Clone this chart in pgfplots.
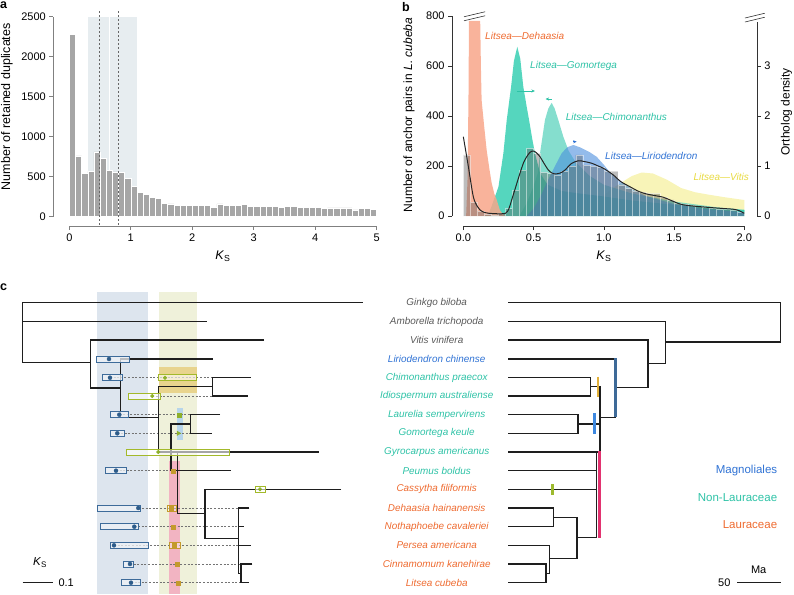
\documentclass[border=0pt]{standalone}
\usepackage{pgfplots}
\pgfplotsset{compat=1.18}
\usepackage{fontspec}
\setmainfont{Liberation Sans}
\usetikzlibrary{arrows.meta}

\definecolor{axa}{HTML}{808080}
\definecolor{axb}{HTML}{333333}
\definecolor{bara}{HTML}{A6A6A6}
\definecolor{banda}{HTML}{E7EDF0}
\definecolor{cGomo}{HTML}{2ACCAE}
\definecolor{cChim}{HTML}{66D6C2}
\definecolor{cLiri}{HTML}{4B8EDE}
\definecolor{cViti}{HTML}{F6F1A6}
\definecolor{cDeha}{HTML}{F8A68A}
\definecolor{greyt}{HTML}{5A5A5A}
\definecolor{bluet}{HTML}{2F72D4}
\definecolor{tealt}{HTML}{2DC2A6}
\definecolor{oranget}{HTML}{EE6A2F}
\definecolor{yellowt}{HTML}{E8DA40}
\definecolor{treec}{HTML}{1E1E1E}
\definecolor{bandblue}{HTML}{DDE5EE}
\definecolor{bandyel}{HTML}{EFF1DA}
\definecolor{bandpink}{HTML}{F2B4C2}
\definecolor{bandgold}{HTML}{E8D48E}
\definecolor{bandlblue}{HTML}{B7D5EA}
\definecolor{boxblue}{HTML}{3D6B9A}
\definecolor{boxbluefill}{HTML}{EEF2F7}
\definecolor{dotblue}{HTML}{2D5C8A}
\definecolor{boxgreen}{HTML}{A3B92A}
\definecolor{dotgreen}{HTML}{8DB02A}
\definecolor{gold}{HTML}{C49A2C}
\definecolor{magbar}{HTML}{3E6A98}
\definecolor{goldbar}{HTML}{E2B13A}
\definecolor{bluebar}{HTML}{3D88E0}
\definecolor{pinkbar}{HTML}{E23370}
\definecolor{greenbar}{HTML}{9DBA2E}

\pgfplotsset{
  tree/.style={no marks, line width=1.4pt, color=treec, line join=miter},
  dsh/.style={no marks, line width=0.8pt, color=black!55, dash pattern=on 2pt off 1.6pt},
  bbox/.style={no marks, line width=0.9pt, draw=boxblue, fill=boxbluefill, fill opacity=0.75},
  gbox/.style={no marks, line width=0.9pt, draw=boxgreen, fill=white, fill opacity=0.6},
  obox/.style={no marks, line width=0.9pt, draw=gold, fill=white, fill opacity=0.4},
}
\tikzset{sp/.style={font=\fontsize{9.9}{11}\selectfont\itshape, anchor=center}}

\begin{document}
\begin{tikzpicture}
\useasboundingbox (0,0) rectangle (794pt,-594pt);

% ---------------- panel a ----------------
\begin{axis}[
 at={(53.35pt,-226pt)}, anchor=south west, scale only axis,
 width=335.6pt, height=217.3pt,
 xmin=-0.26, xmax=5.2, ymin=-116, ymax=2600,
 axis x line*=bottom, axis y line*=left, axis line style={draw=none},
 xtick={0,1,2,3,4,5}, ytick={0,500,1000,1500,2000,2500},
 tick align=outside, major tick length=4pt,
 tick style={line width=0.6pt, color=axa},
 tick label style={font=\fontsize{11}{13}\selectfont, text=black},
 /pgf/number format/assume math mode=true,
 /pgf/number format/1000 sep={},
 clip=false,
]
\addplot[fill=banda, draw=none] coordinates {(0.3,0) (0.645,0) (0.645,2500) (0.3,2500)} -- cycle;
\addplot[fill=banda, draw=none] coordinates {(0.655,0) (1.1,0) (1.1,2500) (0.655,2500)} -- cycle;
\addplot[ybar interval, fill=bara, draw=white, line width=0.5pt] coordinates {
(0.0,2283) (0.1,762) (0.2,546) (0.3,567) (0.4,812) (0.5,733) (0.6,579) (0.7,562) (0.8,550) (0.9,483)
(1.0,379) (1.1,300) (1.2,279) (1.3,242) (1.4,233) (1.5,171) (1.6,162) (1.7,146) (1.8,146) (1.9,146)
(2.0,138) (2.1,142) (2.2,142) (2.3,121) (2.4,162) (2.5,142) (2.6,146) (2.7,146) (2.8,154) (2.9,125)
(3.0,125) (3.1,125) (3.2,125) (3.3,129) (3.4,117) (3.5,125) (3.6,125) (3.7,121) (3.8,117) (3.9,117)
(4.0,117) (4.1,100) (4.2,112) (4.3,112) (4.4,112) (4.5,112) (4.6,87) (4.7,100) (4.8,108) (4.9,92) (5.0,92)};
\addplot[no marks, color=black!60, line width=0.6pt, dash pattern=on 2pt off 2pt] coordinates {(0.49,-100) (0.49,2590)};
\addplot[no marks, color=black!60, line width=0.6pt, dash pattern=on 2pt off 2pt] coordinates {(0.8,-100) (0.8,2590)};
\draw[axa, line width=0.6pt] (axis cs:0,-116) -- (axis cs:5,-116);
\draw[axa, line width=0.6pt] (axis cs:-0.26,0) -- (axis cs:-0.26,2500);
\end{axis}

% ---------------- panel b ----------------
\begin{axis}[
 at={(452.1pt,-226pt)}, anchor=south west, scale only axis,
 width=304.8pt, height=218pt,
 xmin=-0.08, xmax=2.09, ymin=-40, ymax=832,
 axis x line*=bottom, axis y line*=left, axis line style={draw=none},
 xtick={0,0.5,1,1.5,2}, ytick={0,200,400,600,800},
 xticklabel style={/pgf/number format/.cd, fixed, fixed zerofill, precision=1},
 tick align=outside, major tick length=4pt,
 tick style={line width=0.6pt, color=axb},
 tick label style={font=\fontsize{11}{13}\selectfont, text=black},
 /pgf/number format/assume math mode=true,
 clip=false,
]
% Vitis
\addplot[fill=cViti, draw=none, fill opacity=0.8] coordinates {
(0.5,0) (0.7,15) (0.9,50) (1.0,85) (1.1,125) (1.2,160) (1.27,174) (1.35,170) (1.45,145) (1.55,112)
(1.65,95) (1.75,85) (1.85,76) (2.0,64) (2.0,0)} -- cycle;
% Chimonanthus
\addplot[fill=cChim, draw=none, fill opacity=0.8] coordinates {
(0.4,0) (0.45,50) (0.5,120) (0.53,171) (0.546,251) (0.581,384) (0.605,430) (0.629,453) (0.65,430)
(0.676,384) (0.712,317) (0.75,260) (0.8,215) (0.9,160) (1.0,125) (1.2,90) (1.5,58) (1.8,35) (2.0,25) (2.0,0)} -- cycle;
% Gomortega
\addplot[fill=cGomo, draw=none, fill opacity=0.8] coordinates {
(0.15,0) (0.18,10) (0.2,37) (0.25,117) (0.285,251) (0.309,384) (0.34,517) (0.36,620) (0.384,677)
(0.405,630) (0.427,517) (0.45,440) (0.468,384) (0.49,310) (0.51,251) (0.546,171) (0.6,125) (0.7,100)
(0.8,92) (1.0,78) (1.2,62) (1.5,45) (1.8,30) (2.0,24) (2.0,0)} -- cycle;
% Liriodendron
\addplot[fill=cLiri, draw=none, fill opacity=0.6] coordinates {
(0.45,0) (0.5,30) (0.55,80) (0.6,140) (0.653,200) (0.70,251) (0.74,275) (0.783,284) (0.83,275)
(0.9,255) (0.949,237) (1.0,205) (1.05,170) (1.115,140) (1.2,108) (1.3,80) (1.5,48) (1.7,30) (2.0,15) (2.0,0)} -- cycle;
% Dehaasia
\addplot[fill=cDeha, draw=none, fill opacity=0.85] coordinates {
(0.02,0) (0.03,150) (0.037,500) (0.04,780) (0.12,780) (0.125,600) (0.13,464) (0.15,350) (0.166,264)
(0.185,190) (0.202,131) (0.22,90) (0.238,64) (0.26,24) (0.28,8) (0.3,0)} -- cycle;
% histogram
\addplot[ybar interval, fill=black!65, fill opacity=0.4, draw=white, draw opacity=0.5, line width=0.4pt] coordinates {
(0.00,245) (0.05,55) (0.10,20) (0.15,8) (0.20,5) (0.25,12) (0.30,30) (0.35,104) (0.40,184) (0.45,271)
(0.50,251) (0.55,175) (0.60,170) (0.65,165) (0.70,180) (0.75,200) (0.80,245) (0.85,205) (0.90,200) (0.95,195)
(1.00,180) (1.05,180) (1.10,125) (1.15,110) (1.20,100) (1.25,95) (1.30,90) (1.35,90) (1.40,75) (1.45,65)
(1.50,52) (1.55,48) (1.60,44) (1.65,40) (1.70,36) (1.75,32) (1.80,29) (1.85,26) (1.90,24) (1.95,14) (2.00,14)};
% kde line
\addplot[no marks, smooth, color=black!85, line width=1pt] coordinates {
(0,317) (0.036,197) (0.071,77) (0.1,38) (0.119,24) (0.15,14) (0.18,11) (0.24,9) (0.3,11) (0.325,30)
(0.344,64) (0.375,120) (0.403,171) (0.43,215) (0.451,237) (0.475,255) (0.498,260) (0.52,253) (0.546,237)
(0.575,210) (0.605,184) (0.63,172) (0.653,168) (0.69,172) (0.724,184) (0.77,210) (0.819,221) (0.86,218)
(0.914,211) (0.96,200) (1.0,190) (1.068,164) (1.12,138) (1.186,117) (1.25,98) (1.305,88) (1.36,82)
(1.424,75) (1.48,62) (1.542,48) (1.6,42) (1.733,35) (1.85,30) (1.922,27) (1.96,22) (2.0,11)};
% arrows
\addplot[no marks, color=tealt, line width=0.8pt, -{Stealth[length=3.5pt,width=3pt]}] coordinates {(0.38,500) (0.51,500)};
\addplot[no marks, color=tealt, line width=0.8pt, -{Stealth[length=3.5pt,width=3.2pt]}] coordinates {(0.629,468) (0.586,468)};
\addplot[no marks, color=bluet, line width=0.8pt, -{Stealth[length=3.5pt,width=3pt]}] coordinates {(0.783,297) (0.807,297)};
% axis lines and breaks
\draw[axb, line width=0.6pt] (axis cs:0,-40) -- (axis cs:2,-40);
\draw[axb, line width=0.6pt] (axis cs:-0.08,0) -- (axis cs:-0.08,800);
\draw[axb, line width=0.6pt] (axis cs:2.09,0) -- (axis cs:2.09,776);
\draw[axb, line width=0.6pt] (axis cs:0.005,781) -- (axis cs:0.155,801);
\draw[axb, line width=0.6pt] (axis cs:0.005,797) -- (axis cs:0.155,817);
\draw[axb, line width=0.6pt] (axis cs:2.005,776) -- (axis cs:2.146,795);
\draw[axb, line width=0.6pt] (axis cs:2.005,792) -- (axis cs:2.146,811);
\end{axis}

\begin{axis}[
 at={(452.1pt,-226pt)}, anchor=south west, scale only axis,
 width=304.8pt, height=218pt,
 xmin=-0.08, xmax=2.09, ymin=-0.2, ymax=4.16,
 axis y line*=right, axis x line=none, axis line style={draw=none},
 ytick={0,1,2,3},
 tick align=outside, major tick length=4pt,
 tick style={line width=0.6pt, color=axb},
 tick label style={font=\fontsize{11}{13}\selectfont, text=black},
 /pgf/number format/assume math mode=true,
]
\end{axis}

% ---------------- canvas (panel c + all text) ----------------
\begin{axis}[
 at={(0pt,-594pt)}, anchor=south west, scale only axis,
 width=794pt, height=594pt,
 xmin=0, xmax=794, ymin=0, ymax=594, y dir=reverse,
 hide axis, clip=false,
]
% bands
\addplot[fill=bandblue, draw=none] coordinates {(96.7,291.7) (147.7,291.7) (147.7,594) (96.7,594)} -- cycle;
\addplot[fill=bandyel, draw=none] coordinates {(159,291.7) (196.7,291.7) (196.7,594) (159,594)} -- cycle;
\addplot[fill=bandpink, draw=none] coordinates {(169,461) (180,461) (180,594) (169,594)} -- cycle;
\addplot[fill=bandgold, draw=none] coordinates {(159,367.3) (196.7,367.3) (196.7,393.3) (159,393.3)} -- cycle;
\addplot[fill=bandlblue, draw=none] coordinates {(176.7,408.3) (182.7,408.3) (182.7,440) (176.7,440)} -- cycle;

% dashed links
\addplot[dsh] coordinates {(110,377.7) (212.7,377.7)};
\addplot[dsh] coordinates {(152.3,396) (212.7,396)};
\addplot[dsh] coordinates {(119.3,414.7) (190.7,414.7)};
\addplot[dsh] coordinates {(117.3,433.3) (190.7,433.3)};
\addplot[dsh] coordinates {(116,470.7) (171,470.7)};
\addplot[dsh] coordinates {(138.3,508) (238.3,508)};
\addplot[dsh] coordinates {(134.3,526.7) (238.3,526.7)};
\addplot[dsh] coordinates {(114,545.3) (238.3,545.3)};
\addplot[dsh] coordinates {(130,564) (241,564)};
\addplot[dsh] coordinates {(131,582.7) (241,582.7)};

% left tree
\addplot[tree] coordinates {(362.7,302.7) (22.7,302.7) (22.7,362.7) (90.7,362.7)};
\addplot[tree] coordinates {(22.7,321.7) (206.7,321.7)};
\addplot[tree] coordinates {(264,340) (90.7,340) (90.7,388) (120.7,388)};
\addplot[tree] coordinates {(212.7,359) (120.7,359) (120.7,417.3) (158.3,417.3)};
\addplot[tree] coordinates {(212.7,386.7) (158.3,386.7) (158.3,452) (319,452)};
\addplot[tree] coordinates {(250.7,377.7) (212.7,377.7) (212.7,396) (247.7,396)};
\addplot[tree] coordinates {(220,414.7) (190.7,414.7) (190.7,433.3) (211.7,433.3)};
\addplot[tree] coordinates {(190.7,424) (171,424) (171,470.7) (230.7,470.7)};
\addplot[tree] coordinates {(177.7,452) (177.7,513.3) (205,513.3)};
\addplot[tree] coordinates {(341,489.3) (205,489.3) (205,538.3) (238.3,538.3)};
\addplot[tree] coordinates {(249.3,508) (238.3,508) (238.3,573.3) (241,573.3)};
\addplot[tree] coordinates {(238.3,526.7) (244.3,526.7)};
\addplot[tree] coordinates {(238.3,545.3) (250.7,545.3)};
\addplot[tree] coordinates {(252.3,564) (241,564) (241,582.7) (249.3,582.7)};

% boxes
\addplot[bbox] coordinates {(96.7,356) (129.3,356) (129.3,362) (96.7,362)} -- cycle;
\addplot[bbox] coordinates {(102.7,374.7) (122.7,374.7) (122.7,380.7) (102.7,380.7)} -- cycle;
\addplot[bbox] coordinates {(110.7,411.7) (128.3,411.7) (128.3,417.7) (110.7,417.7)} -- cycle;
\addplot[bbox] coordinates {(110.7,430.3) (124.3,430.3) (124.3,436.3) (110.7,436.3)} -- cycle;
\addplot[bbox] coordinates {(105,467.7) (126.7,467.7) (126.7,473.7) (105,473.7)} -- cycle;
\addplot[bbox] coordinates {(97.3,505) (140,505) (140,511) (97.3,511)} -- cycle;
\addplot[bbox] coordinates {(100.7,523.7) (138.3,523.7) (138.3,529.7) (100.7,529.7)} -- cycle;
\addplot[bbox] coordinates {(110.7,542.3) (148.3,542.3) (148.3,548.3) (110.7,548.3)} -- cycle;
\addplot[bbox] coordinates {(123.3,561) (133.3,561) (133.3,567) (123.3,567)} -- cycle;
\addplot[bbox] coordinates {(121,579.7) (140.7,579.7) (140.7,585.7) (121,585.7)} -- cycle;
\addplot[gbox] coordinates {(158.3,374.7) (196.7,374.7) (196.7,380.7) (158.3,380.7)} -- cycle;
\addplot[gbox] coordinates {(128.3,393) (160,393) (160,399) (128.3,399)} -- cycle;
\addplot[gbox] coordinates {(126.7,449) (229,449) (229,455) (126.7,455)} -- cycle;
\addplot[gbox] coordinates {(255.7,486.3) (265.7,486.3) (265.7,492.3) (255.7,492.3)} -- cycle;
\addplot[obox] coordinates {(167.7,505) (176.7,505) (176.7,511) (167.7,511)} -- cycle;
\addplot[obox] coordinates {(169,542.3) (180,542.3) (180,548.3) (169,548.3)} -- cycle;

% markers
\addplot[only marks, mark=*, mark size=2pt, color=dotblue] coordinates {
(109,359) (110,377.7) (119.3,414.7) (117.3,433.3) (116,470.7) (138.3,508) (134.3,526.7) (114,545.3) (130,564) (131,582.7)};
\addplot[only marks, mark=*, mark size=1.8pt, color=dotgreen] coordinates {
(165,377.7) (152.3,396) (158.3,452) (260,489.3)};
\addplot[only marks, mark=square*, mark size=2pt, color=gold] coordinates {
(171,508) (172.7,526.7) (174.3,545.3) (173.3,470.7) (177.3,564) (177.7,582.7)};
\addplot[only marks, mark=square*, mark size=2pt, color=dotgreen] coordinates {(179.3,414.7)};
\addplot[only marks, mark=triangle*, mark size=2.5pt, color=dotgreen, mark options={rotate=-90}] coordinates {(178.3,433.3)};

% right tree
\addplot[tree] coordinates {(508.3,302.7) (780.7,302.7) (780.7,342) (665.7,342)};
\addplot[tree] coordinates {(508.3,321.7) (665.7,321.7) (665.7,363.3) (648,363.3)};
\addplot[tree] coordinates {(508.3,340) (648,340) (648,387.3) (615.3,387.3)};
\addplot[tree] coordinates {(508.3,359) (615.3,359) (615.3,417.3) (600,417.3)};
\addplot[tree] coordinates {(508.3,377.7) (590.7,377.7) (590.7,396) (508.3,396)};
\addplot[tree] coordinates {(590.7,386.7) (600,386.7) (600,452) (508.3,452)};
\addplot[tree] coordinates {(508.3,414.7) (578,414.7) (578,433.3) (508.3,433.3)};
\addplot[tree] coordinates {(578,424) (600,424)};
\addplot[tree] coordinates {(596.7,452) (596.7,537.3)};
\addplot[tree] coordinates {(508.3,470.7) (596.7,470.7)};
\addplot[tree] coordinates {(508.3,489.3) (596.7,489.3)};
\addplot[tree] coordinates {(508.3,508) (553.7,508) (553.7,526.7) (508.3,526.7)};
\addplot[tree] coordinates {(553.7,517.3) (577,517.3) (577,558.7) (549.3,558.7)};
\addplot[tree] coordinates {(577,537.3) (596.7,537.3)};
\addplot[tree] coordinates {(508.3,545.3) (549.3,545.3) (549.3,573.3) (546,573.3)};
\addplot[tree] coordinates {(508.3,564) (546,564) (546,582.7) (508.3,582.7)};
% colored bars
\addplot[no marks, color=magbar, line width=2.8pt] coordinates {(615.6,358.3) (615.6,417.3)};
\addplot[no marks, color=goldbar, line width=2.8pt] coordinates {(597.9,376.7) (597.9,397.3)};
\addplot[no marks, color=bluebar, line width=2.8pt] coordinates {(594.7,413.3) (594.7,434.3)};
\addplot[no marks, color=pinkbar, line width=3pt] coordinates {(599.2,451) (599.2,538.3)};
\addplot[no marks, color=greenbar, line width=2.8pt] coordinates {(552.3,484) (552.3,495)};

% scale bars
\addplot[no marks, color=treec, line width=1pt] coordinates {(22.7,582.3) (52.7,582.3)};
\addplot[no marks, color=treec, line width=1pt] coordinates {(737.3,582.7) (780.7,582.7)};
\node[font=\fontsize{11.5}{13}\selectfont] at (axis cs:40,562.7) {\textit{K}\textsubscript{S}};
\node[font=\fontsize{11}{13}\selectfont, anchor=west] at (axis cs:55,582.3) {0.1};
\node[font=\fontsize{11}{13}\selectfont] at (axis cs:758.7,569.5) {Ma};
\node[font=\fontsize{11}{13}\selectfont, anchor=east] at (axis cs:734,582.7) {50};

% species labels
\node[sp, text=greyt] at (axis cs:436.7,302.7) {Ginkgo biloba};
\node[sp, text=greyt] at (axis cs:436.7,321.7) {Amborella trichopoda};
\node[sp, text=greyt] at (axis cs:436.7,340) {Vitis vinifera};
\node[sp, text=bluet] at (axis cs:436.7,359) {Liriodendron chinense};
\node[sp, text=tealt] at (axis cs:436.7,377.7) {Chimonanthus praecox};
\node[sp, text=tealt] at (axis cs:436.7,396) {Idiospermum australiense};
\node[sp, text=tealt] at (axis cs:436.7,414.7) {Laurelia sempervirens};
\node[sp, text=tealt] at (axis cs:436.7,433.3) {Gomortega keule};
\node[sp, text=tealt] at (axis cs:436.7,452) {Gyrocarpus americanus};
\node[sp, text=tealt] at (axis cs:436.7,470.7) {Peumus boldus};
\node[sp, text=oranget] at (axis cs:436.7,489.3) {Cassytha filiformis};
\node[sp, text=oranget] at (axis cs:436.7,508) {Dehaasia hainanensis};
\node[sp, text=oranget] at (axis cs:436.7,526.7) {Nothaphoebe cavaleriei};
\node[sp, text=oranget] at (axis cs:436.7,545.3) {Persea americana};
\node[sp, text=oranget] at (axis cs:436.7,564) {Cinnamomum kanehirae};
\node[sp, text=oranget] at (axis cs:436.7,582.7) {Litsea cubeba};

% legend
\node[font=\fontsize{11.5}{13}\selectfont, text=bluet, anchor=east] at (axis cs:780.7,471) {Magnoliales};
\node[font=\fontsize{11.5}{13}\selectfont, text=tealt, anchor=east] at (axis cs:780.7,497.7) {Non-Lauraceae};
\node[font=\fontsize{11.5}{13}\selectfont, text=oranget, anchor=east] at (axis cs:780.7,525) {Lauraceae};

% panel letters
\node[font=\fontsize{12.5}{14}\selectfont\bfseries, anchor=north west, inner sep=0pt] at (axis cs:0,2) {a};
\node[font=\fontsize{12.5}{14}\selectfont\bfseries, anchor=north west, inner sep=0pt] at (axis cs:402,2) {b};
\node[font=\fontsize{12.5}{14}\selectfont\bfseries, anchor=north west, inner sep=0pt] at (axis cs:0,284) {c};

% axis labels
\node[font=\fontsize{12.5}{14}\selectfont, rotate=90] at (axis cs:7,106.7) {Number of retained duplicates};
\node[font=\fontsize{12.5}{14}\selectfont] at (axis cs:223,256) {\textit{K}\textsubscript{S}};
\node[font=\fontsize{12}{14}\selectfont, rotate=90] at (axis cs:409,115) {Number of anchor pairs in \textit{L. cubeba}};
\node[font=\fontsize{12}{14}\selectfont, rotate=90] at (axis cs:786.5,111.7) {Ortholog density};
\node[font=\fontsize{12.5}{14}\selectfont] at (axis cs:604,256) {\textit{K}\textsubscript{S}};

% panel b curve labels
\node[font=\fontsize{10}{12}\selectfont\itshape, text=oranget, anchor=west] at (axis cs:481.7,36) {Litsea—Dehaasia};
\node[font=\fontsize{10}{12}\selectfont\itshape, text=tealt, anchor=west] at (axis cs:526.7,66.3) {Litsea—Gomortega};
\node[font=\fontsize{10}{12}\selectfont\itshape, text=tealt, anchor=west] at (axis cs:562.3,116.7) {Litsea—Chimonanthus};
\node[font=\fontsize{10}{12}\selectfont\itshape, text=bluet, anchor=west] at (axis cs:601.7,156) {Litsea—Liriodendron};
\node[font=\fontsize{10}{12}\selectfont\itshape, text=yellowt, anchor=west] at (axis cs:690,177.3) {Litsea—Vitis};
\end{axis}
\end{tikzpicture}
\end{document}
